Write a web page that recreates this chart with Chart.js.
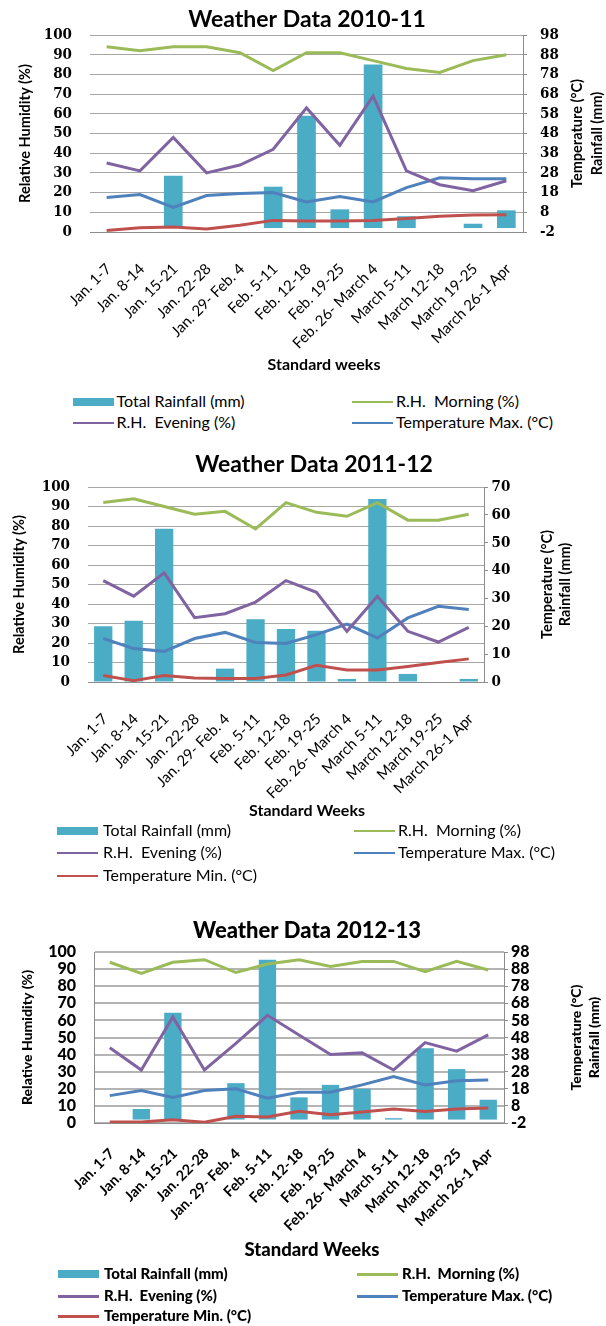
<!DOCTYPE html>
<html>
<head>
<meta charset="utf-8">
<script src="https://cdn.jsdelivr.net/npm/chart.js@4.4.1/dist/chart.umd.min.js"></script>
<style>
body { margin: 0; background: #fff; width: 606px; height: 1326px; position: relative; overflow: hidden; font-family: Lato, 'Open Sans', sans-serif; }
.box { position: absolute; left: 0; }
.item { position: absolute; white-space: pre; font-size: 16px; color: #000; line-height: 18px; }
.mark { position: absolute; }
</style>
</head>
<body>
<div class="box" style="top:0"><canvas id="chart1" width="614" height="385"></canvas></div>
<div class="box" style="top:450px"><canvas id="chart2" width="628" height="380"></canvas></div>
<div class="box" style="top:905px"><canvas id="chart3" width="614" height="363"></canvas></div>
<div id="legends"></div>
<script>
var weeks = ['Jan. 1-7', 'Jan. 8-14', 'Jan. 15-21', 'Jan. 22-28', 'Jan. 29- Feb. 4', 'Feb. 5-11', 'Feb. 12-18',
  'Feb. 19-25', 'Feb. 26- March 4', 'March 5-11', 'March 12-18', 'March 19-25', 'March 26-1 Apr'];
var seriesNames = ['Total Rainfall (mm)', 'R.H.  Morning (%)', 'R.H.  Evening (%)', 'Temperature Max. (°C)', 'Temperature Min. (°C)'];

var rhTicks = [0, 10, 20, 30, 40, 50, 60, 70, 80, 90, 100];
var tempTicksA = [-2, 8, 18, 28, 38, 48, 58, 68, 78, 88, 98];
var tempTicksB = [0, 10, 20, 30, 40, 50, 60, 70];

// 2010-11
var rain1 = [0, 0, 26.5, 0, 0, 21, 57, 9.5, 83, 6, 0, 2.2, 9];
var rhMorning1 = [94, 92, 94, 94, 91, 82, 91, 91, 87, 83, 81, 87, 90];
var rhEvening1 = [35, 31, 48, 30, 34, 42, 63, 44, 69, 31, 24, 21, 26];
var tMax1 = [15.5, 17, 10.5, 16.5, 17.5, 18, 13.3, 16, 13.3, 20.5, 25.5, 25, 25];
var tMin1 = [-1.2, 0.2, 0.5, -0.5, 1.4, 3.9, 3.6, 3.6, 3.9, 4.8, 6, 6.6, 6.8];

// 2011-12
var rain2 = [20, 22, 55, 0, 4.8, 22.5, 19, 18.4, 1.1, 65.7, 2.9, 0, 1.1];
var rhMorning2 = [92, 94, 90, 86, 87.5, 78.5, 92, 87, 85, 92, 83, 83, 86];
var rhEvening2 = [52, 44, 56, 33, 35, 41, 52, 46, 26, 44, 26, 20.5, 28];
var tMax2 = [15.6, 12, 11, 15.6, 17.8, 14.2, 13.8, 17, 20.8, 15.8, 23, 27.2, 26];
var tMin2 = [2.3, 0.5, 2.3, 1.4, 1.3, 1.3, 2.5, 6, 4.3, 4.3, 5.6, 7, 8.3];

// 2012-13
var rain3 = [0, 6.2, 62.5, 0, 21.3, 93.5, 13, 20.3, 18, 0.8, 41.7, 29.5, 11.6];
var rhMorning3 = [94, 87.5, 94, 95.5, 88, 93, 95.5, 91.5, 94.5, 94.5, 88.5, 94.5, 89.5];
var rhEvening3 = [44, 31, 62, 31, 46.5, 63, 51.5, 40, 41, 31, 47, 42, 51.5];
var tMax3 = [14, 17, 13, 17, 18, 12.5, 16, 16, 20.3, 25.2, 20.3, 22.7, 23.2];
var tMin3 = [-1.4, -1.4, -0.1, -1.6, 1.9, 1.5, 4.8, 2.9, 4.4, 6.2, 4.8, 6.2, 6.7];

var colors = ['#4BACC6', '#9BBB59', '#8064A2', '#4F81BD', '#C0504D'];
var serif = '"DejaVu Serif Condensed", "DejaVu Serif", "Liberation Serif", serif';

Chart.defaults.font.family = 'Lato, "Open Sans", sans-serif';
Chart.defaults.color = '#000';

// right hand title reads bottom to top like the left one; x title sits off centre
var extraTitles = {
  id: 'extraTitles',
  afterDraw: function(chart, args, opts) {
    var ctx = chart.ctx;
    var y = (chart.chartArea.top + chart.chartArea.bottom) / 2;
    ctx.save();
    ctx.fillStyle = '#000';
    ctx.textAlign = 'center';
    ctx.textBaseline = 'middle';
    ctx.font = opts.rightFont;
    for (var i = 0; i < opts.rightLines.length; i++) {
      ctx.save();
      ctx.translate(opts.rightX[i], y);
      ctx.rotate(-Math.PI / 2);
      ctx.fillText(opts.rightLines[i], 0, 0);
      ctx.restore();
    }
    ctx.font = opts.xFont;
    ctx.fillText(opts.xText, opts.xX, opts.xY);
    ctx.restore();
  }
};

function setTicks(list) {
  return function(axis) {
    axis.ticks = list.map(function(v) { return {value: v}; });
  };
}
function fixWidth(w) { return function(s) { s.width = w; }; }
function fixHeight(h) { return function(s) { s.height = h; }; }

function weatherChart(id, o) {
  var lw = o.lineWidth;
  return new Chart(document.getElementById(id), {
    type: 'bar',
    data: {
      labels: weeks,
      datasets: [
        {type: 'bar', label: seriesNames[0], data: o.rain, yAxisID: 'y1', backgroundColor: colors[0],
          barPercentage: o.barPct, categoryPercentage: 1, order: 5},
        {type: 'line', label: seriesNames[1], data: o.rhMorning, yAxisID: 'y', borderColor: colors[1],
          borderWidth: lw, pointRadius: 0, tension: 0, order: 1},
        {type: 'line', label: seriesNames[2], data: o.rhEvening, yAxisID: 'y', borderColor: colors[2],
          borderWidth: lw, pointRadius: 0, tension: 0, order: 2},
        {type: 'line', label: seriesNames[3], data: o.tMax, yAxisID: 'y1', borderColor: colors[3],
          borderWidth: lw, pointRadius: 0, tension: 0, order: 3},
        {type: 'line', label: seriesNames[4], data: o.tMin, yAxisID: 'y1', borderColor: colors[4],
          borderWidth: lw, pointRadius: 0, tension: 0, order: 4}
      ]
    },
    options: {
      responsive: false,
      animation: false,
      events: [],
      layout: {padding: 0},
      plugins: {
        legend: {display: false},
        tooltip: {enabled: false},
        title: {display: true, text: o.title, color: '#000',
          font: {size: o.titleSize, weight: o.weight, lineHeight: 1.2}, padding: o.titlePad},
        extraTitles: {
          rightLines: ['Temperature (°C)', 'Rainfall (mm)'], rightX: o.rightTitleX, rightFont: o.axisTitleFont,
          xText: o.xTitle, xX: o.xTitleX, xY: o.xTitleY, xFont: o.xTitleFont
        }
      },
      scales: {
        x: {
          afterFit: fixHeight(o.xHeight),
          grid: {display: false},
          border: {display: true, color: '#8c8c8c', width: 1},
          ticks: {autoSkip: false, maxRotation: 45, minRotation: 45, padding: o.xPad, labelOffset: o.xOffset,
            font: {size: o.xSize, weight: o.xWeight}}
        },
        y: {
          position: 'left',
          min: 0, max: 100,
          afterBuildTicks: setTicks(rhTicks),
          afterFit: fixWidth(o.left),
          grid: {color: o.gridColor, lineWidth: o.gridWidth, drawTicks: false},
          border: {display: o.leftBorder, color: '#8c8c8c'},
          ticks: {autoSkip: false, padding: o.leftPad, font: o.tickFont},
          title: {display: true, text: 'Relative Humidity (%)', padding: {top: o.leftTitlePad, bottom: 0},
            font: {size: o.axisTitleSize, weight: o.weight, lineHeight: 1.2}}
        },
        y1: {
          position: 'right',
          min: o.tempTicks[0], max: o.tempTicks[o.tempTicks.length - 1],
          afterBuildTicks: setTicks(o.tempTicks),
          afterFit: fixWidth(o.right),
          grid: {drawOnChartArea: false, drawTicks: true, tickLength: 4, color: '#8c8c8c'},
          border: {display: true, color: '#8c8c8c'},
          ticks: {autoSkip: false, padding: o.rightPad, font: o.tickFont}
        }
      }
    },
    plugins: [extraTitles]
  });
}

weatherChart('chart1', {
  title: 'Weather Data 2010-11', titleSize: 23, weight: 'bold', titlePad: {top: 6.2, bottom: 1.2},
  rain: rain1, rhMorning: rhMorning1, rhEvening: rhEvening1, tMax: tMax1, tMin: tMin1,
  tempTicks: tempTicksA, barPct: 0.56, lineWidth: 3,
  left: 90, right: 91, xHeight: 153, xPad: 20, xOffset: 2, xSize: 15, xWeight: 'normal',
  xTitle: 'Standard weeks', xTitleX: 324, xTitleY: 365, xTitleFont: 'bold 16px Lato',
  leftPad: 18, rightPad: 13, leftTitlePad: 16.6, axisTitleSize: 14.5,
  tickFont: {family: serif, size: 15, weight: 'bold'},
  gridColor: '#a6a6a6', gridWidth: 1, leftBorder: false,
  rightTitleX: [577, 597], axisTitleFont: 'bold 14.5px Lato'
});

weatherChart('chart2', {
  title: 'Weather Data 2011-12', titleSize: 23, weight: 'bold', titlePad: {top: 1.2, bottom: 8.2},
  rain: rain2, rhMorning: rhMorning2, rhEvening: rhEvening2, tMax: tMax2, tMin: tMin2,
  tempTicks: tempTicksB, barPct: 0.6, lineWidth: 3,
  left: 88, right: 144, xHeight: 148, xPad: 20, xOffset: 2, xSize: 15, xWeight: 'normal',
  xTitle: 'Standard Weeks', xTitleX: 307, xTitleY: 361, xTitleFont: 'bold 16px Lato',
  leftPad: 18, rightPad: 3.5, leftTitlePad: 10.6, axisTitleSize: 14.5,
  tickFont: {family: serif, size: 15, weight: 'bold'},
  gridColor: '#a6a6a6', gridWidth: 1, leftBorder: false,
  rightTitleX: [547, 565], axisTitleFont: 'bold 14.5px Lato'
});

weatherChart('chart3', {
  title: 'Weather Data 2012-13', titleSize: 22, weight: '900', titlePad: {top: 12.8, bottom: 7.8},
  rain: rain3, rhMorning: rhMorning3, rhEvening: rhEvening3, tMax: tMax3, tMin: tMin3,
  tempTicks: tempTicksA, barPct: 0.55, lineWidth: 3,
  left: 94, right: 110, xHeight: 145, xPad: 14, xOffset: 2, xSize: 14.5, xWeight: 'bold',
  xTitle: 'Standard Weeks', xTitleX: 312, xTitleY: 345, xTitleFont: '900 18.5px Lato',
  leftPad: 18, rightPad: 3, leftTitlePad: 18.6, axisTitleSize: 14,
  tickFont: {size: 16, weight: '900'},
  gridColor: '#b4b4b4', gridWidth: 2, leftBorder: true,
  rightTitleX: [576, 594], axisTitleFont: '900 14px Lato'
});

// two-column legends under each chart
function legend(rowsY, colX, textX, count, weight, size) {
  var host = document.getElementById('legends');
  for (var i = 0; i < count; i++) {
    var y = rowsY[Math.floor(i / 2)];
    var m = document.createElement('div');
    m.className = 'mark';
    var h = i === 0 ? 8 : (weight === 'normal' ? 2 : 3);
    m.style.cssText = 'left:' + colX[i % 2] + 'px;top:' + (y - h / 2) + 'px;width:41px;height:' + h + 'px;background:' + colors[i];
    host.appendChild(m);
    var t = document.createElement('div');
    t.className = 'item';
    t.textContent = seriesNames[i];
    t.style.left = textX[i % 2] + 'px';
    t.style.top = (y - 10) + 'px';
    t.style.fontWeight = weight;
    t.style.fontSize = size + 'px';
    host.appendChild(t);
  }
}
legend([402, 423], [72.5, 351.5], [116.5, 396], 4, 'normal', 16);
legend([831, 853, 876], [57, 353.5], [103, 398], 5, 'normal', 16);
legend([1274, 1296, 1316], [58, 357], [104, 402], 5, '900', 15);
</script>
</body>
</html>
